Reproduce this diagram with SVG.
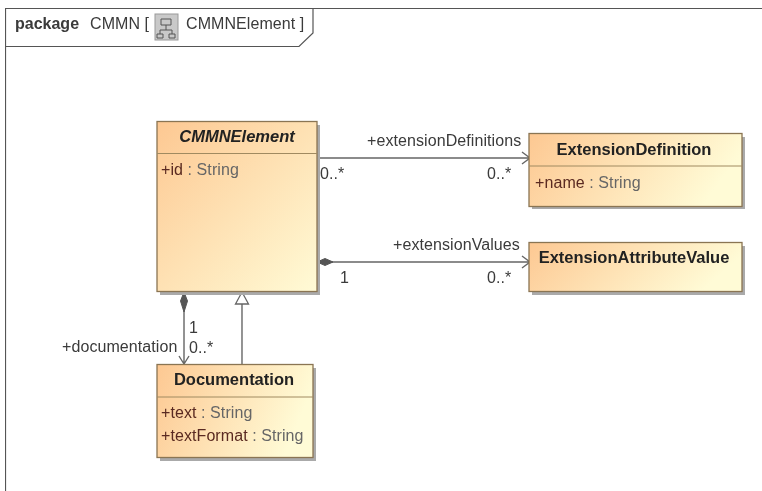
<svg xmlns="http://www.w3.org/2000/svg" width="762" height="491" viewBox="0 0 762 491">
<style>
text{font-family:"Liberation Sans",Arial,sans-serif;font-size:16px;fill:#3a3a3a;letter-spacing:.08px}
.t{font-weight:bold;font-size:16.500px;fill:#222;text-anchor:middle;letter-spacing:0}
.i{font-style:italic}
.box{stroke:#8a7452;stroke-width:1.300}
.sh{fill:#aaa}
.sep{stroke:#a08a60;stroke-width:1}
.v{fill:#5a2a20}
.ty{fill:#666}
.c{fill:none;stroke:#666;stroke-width:1.400}
.d{fill:#555;stroke:#555}
</style>
<defs>
<linearGradient id="g" x1="0" y1="0" x2="1" y2="1">
<stop offset="0" stop-color="#fdc892"/><stop offset="1" stop-color="#fffbd6"/>
</linearGradient>
<linearGradient id="h" x1="0" y1="0" x2="1" y2=".25">
<stop offset="0" stop-color="#fdc892"/><stop offset="1" stop-color="#fffbd6"/>
</linearGradient>
<filter id="soft" x="0" y="0" width="100%" height="100%"><feGaussianBlur stdDeviation=".4"/></filter>
</defs>
<rect width="762" height="491" fill="#fff"/>
<g filter="url(#soft)">
<g id="frame">
<path d="M5.500 491V8.500H762" fill="none" stroke="#555" stroke-width="1.200"/>
<path d="M5.500 46.500H299L313 33V8.500" fill="none" stroke="#555" stroke-width="1.200"/>
<text x="15" y="29" style="font-weight:bold;letter-spacing:0">package</text>
<text x="90" y="29">CMMN [</text>
<rect x="155" y="14" width="23" height="26" fill="#c9c9c9" stroke="#999"/>
<path d="M161 19h10v6h-10zM166 25v5M160 34v-4h12v4M157 34h6v4h-6zM169 34h6v4h-6z" fill="none" stroke="#555"/>
<text x="186" y="29">CMMNElement ]</text>
</g>
<g id="connectors">
<path class="c" d="M317 158H529M522 152L530 158L522 164"/>
<path class="c" d="M317 262H529M522 256L530 262L522 268"/>
<path class="d" d="M317 262L325 258.500L333 262L325 265.500Z"/>
<path class="c" d="M184 292V364M179 356L184 364L189 356"/>
<path class="d" d="M184 292L187.500 301L184 312L180.500 301Z"/>
<path class="c" d="M242 364V304"/>
<path d="M242 292L248.500 304H235.500Z" fill="#fff" stroke="#666" stroke-width="1.300"/>
<text x="367" y="146">+extensionDefinitions</text>
<text x="320" y="179">0..*</text>
<text x="487" y="179">0..*</text>
<text x="393" y="250">+extensionValues</text>
<text x="340" y="283">1</text>
<text x="487" y="283">0..*</text>
<text x="62" y="352">+documentation</text>
<text x="189" y="333">1</text>
<text x="189" y="353">0..*</text>
</g>
<g id="CMMNElement">
<rect class="sh" x="160" y="125" width="160" height="170"/>
<rect class="box" x="157" y="121.500" width="160" height="170" fill="url(#g)"/>
<line class="sep" x1="157" y1="153.500" x2="317" y2="153.500"/>
<text class="t i" x="237" y="142">CMMNElement</text>
<text x="161" y="175"><tspan class="v">+id</tspan><tspan class="ty"> : String</tspan></text>
</g>
<g id="ExtensionDefinition">
<rect class="sh" x="532" y="137" width="213" height="72"/>
<rect class="box" x="529" y="133.500" width="213" height="73" fill="url(#h)"/>
<line class="sep" x1="529" y1="166" x2="742" y2="166"/>
<text class="t" x="634" y="155">ExtensionDefinition</text>
<text x="535" y="188"><tspan class="v">+name</tspan><tspan class="ty"> : String</tspan></text>
</g>
<g id="ExtensionAttributeValue">
<rect class="sh" x="532" y="246" width="213" height="49"/>
<rect class="box" x="529" y="242.500" width="213" height="49" fill="url(#h)"/>
<text class="t" x="634" y="263">ExtensionAttributeValue</text>
</g>
<g id="Documentation">
<rect class="sh" x="160" y="368" width="156" height="93"/>
<rect class="box" x="157" y="364.500" width="156" height="93" fill="url(#h)"/>
<line class="sep" x1="157" y1="397" x2="313" y2="397"/>
<text class="t" x="234" y="385">Documentation</text>
<text x="161" y="418"><tspan class="v">+text</tspan><tspan class="ty"> : String</tspan></text>
<text x="161" y="441"><tspan class="v">+textFormat</tspan><tspan class="ty"> : String</tspan></text>
</g>
</g>
</svg>
